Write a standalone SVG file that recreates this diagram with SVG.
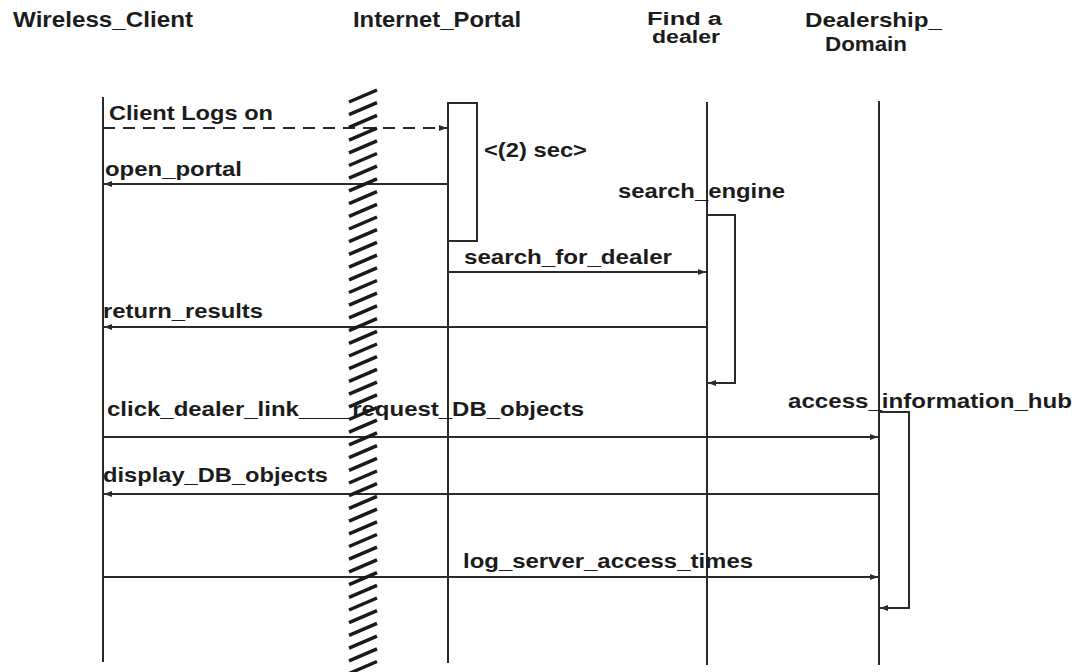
<svg xmlns="http://www.w3.org/2000/svg" width="1080" height="672" viewBox="0 0 1080 672">
<style>
  text { font-family: "Liberation Sans", Arial, sans-serif; font-weight: bold; fill: #1c1c1c; }
  .hdr { font-size: 22px; }
  .hdr3 { font-size: 21px; }
  .hdr2 { font-size: 18px; }
  .lbl { font-size: 21px; }
  .life { stroke: #2a2a2a; stroke-width: 2; fill: none; }
  .msg { stroke: #2a2a2a; stroke-width: 2; fill: none; }
  .act { stroke: #2a2a2a; stroke-width: 2; fill: #fff; }
  .hatch { stroke: #1a1a1a; stroke-width: 3.5; fill: none; stroke-linecap: butt; }
</style>
<defs>
  <marker id="ah" viewBox="0 0 8 8" refX="8" refY="4" markerWidth="8" markerHeight="8" markerUnits="userSpaceOnUse" orient="auto">
    <path d="M0 1 L8 4 L0 7 Z" fill="#2a2a2a"/>
  </marker>
</defs>
<rect width="1080" height="672" fill="#fff"/>

<g id="node-wireless-client">
  <text class="hdr" x="13" y="27" textLength="180" lengthAdjust="spacingAndGlyphs">Wireless_Client</text>
  <line class="life" x1="103" y1="97" x2="103" y2="662"/>
</g>
<g id="node-internet-portal">
  <text class="hdr" x="353" y="27" textLength="168" lengthAdjust="spacingAndGlyphs">Internet_Portal</text>
  <line class="life" x1="448" y1="103" x2="448" y2="663"/>
  <rect class="act" x="448" y="103" width="29" height="138"/>
  <text class="lbl" x="484" y="157" textLength="103" lengthAdjust="spacingAndGlyphs">&lt;(2) sec&gt;</text>
</g>
<g id="node-find-a-dealer">
  <text class="hdr2" x="647" y="25" textLength="75" lengthAdjust="spacingAndGlyphs">Find  a</text>
  <text class="hdr2" x="652" y="43" textLength="68" lengthAdjust="spacingAndGlyphs">dealer</text>
  <line class="life" x1="707" y1="102" x2="707" y2="665"/>
  <rect class="act" x="707" y="215" width="28" height="168"/>
  <text class="lbl" x="618" y="198" textLength="167" lengthAdjust="spacingAndGlyphs">search_engine</text>
</g>
<g id="node-dealership-domain">
  <text class="hdr3" x="805" y="27" textLength="137" lengthAdjust="spacingAndGlyphs">Dealership_</text>
  <text class="hdr3" x="825" y="51" textLength="82" lengthAdjust="spacingAndGlyphs">Domain</text>
  <line class="life" x1="879" y1="101" x2="879" y2="665"/>
  <rect class="act" x="879" y="412" width="30" height="196"/>
  <text class="lbl" x="788" y="408" textLength="284" lengthAdjust="spacingAndGlyphs">access_information_hub</text>
</g>

<g id="connectors">
  <line class="msg" x1="103" y1="128" x2="447" y2="128" stroke-dasharray="12 8" marker-end="url(#ah)"/>
  <line class="msg" x1="448" y1="184" x2="104" y2="184" marker-end="url(#ah)"/>
  <line class="msg" x1="448" y1="272" x2="706" y2="272" marker-end="url(#ah)"/>
  <line class="msg" x1="707" y1="327" x2="104" y2="327" marker-end="url(#ah)"/>
  <line class="msg" x1="103" y1="437" x2="878" y2="437" marker-end="url(#ah)"/>
  <line class="msg" x1="879" y1="494" x2="104" y2="494" marker-end="url(#ah)"/>
  <line class="msg" x1="103" y1="577" x2="878" y2="577" marker-end="url(#ah)"/>
  <line class="msg" x1="735" y1="383" x2="708" y2="383" marker-end="url(#ah)"/>
  <line class="msg" x1="909" y1="608" x2="880" y2="608" marker-end="url(#ah)"/>
</g>

<g id="labels">
  <text class="lbl" x="109" y="120" textLength="164" lengthAdjust="spacingAndGlyphs">Client Logs on</text>
  <text class="lbl" x="105" y="176" textLength="137" lengthAdjust="spacingAndGlyphs">open_portal</text>
  <text class="lbl" x="464" y="264" textLength="208" lengthAdjust="spacingAndGlyphs">search_for_dealer</text>
  <text class="lbl" x="103" y="318" textLength="160" lengthAdjust="spacingAndGlyphs">return_results</text>
  <text class="lbl" x="107" y="416" textLength="477" lengthAdjust="spacingAndGlyphs">click_dealer_link____request_DB_objects</text>
  <text class="lbl" x="103" y="482" textLength="225" lengthAdjust="spacingAndGlyphs">display_DB_objects</text>
  <text class="lbl" x="463" y="568" textLength="290" lengthAdjust="spacingAndGlyphs">log_server_access_times</text>
</g>

<g id="barrier">
  <path class="hatch" d="M349 102 l28 -12 m-28 24.7 l28 -12 m-28 24.7 l28 -12 m-28 24.7 l28 -12 m-28 24.7 l28 -12 m-28 24.7 l28 -12 m-28 24.7 l28 -12 m-28 24.7 l28 -12 m-28 24.7 l28 -12 m-28 24.7 l28 -12 m-28 24.7 l28 -12 m-28 24.7 l28 -12 m-28 24.7 l28 -12 m-28 24.7 l28 -12 m-28 24.7 l28 -12 m-28 24.7 l28 -12 m-28 24.7 l28 -12 m-28 24.7 l28 -12 m-28 24.7 l28 -12 m-28 24.7 l28 -12 m-28 24.7 l28 -12 m-28 24.7 l28 -12 m-28 24.7 l28 -12 m-28 24.7 l28 -12 m-28 24.7 l28 -12 m-28 24.7 l28 -12 m-28 24.7 l28 -12 m-28 24.7 l28 -12 m-28 24.7 l28 -12 m-28 24.7 l28 -12 m-28 24.7 l28 -12 m-28 24.7 l28 -12 m-28 24.7 l28 -12 m-28 24.7 l28 -12 m-28 24.7 l28 -12 m-28 24.7 l28 -12 m-28 24.7 l28 -12 m-28 24.7 l28 -12 m-28 24.7 l28 -12 m-28 24.7 l28 -12 m-28 24.7 l28 -12 m-28 24.7 l28 -12 m-28 24.7 l28 -12 m-28 24.7 l28 -12 m-28 24.7 l28 -12 m-28 24.7 l28 -12"/>
</g>
</svg>
